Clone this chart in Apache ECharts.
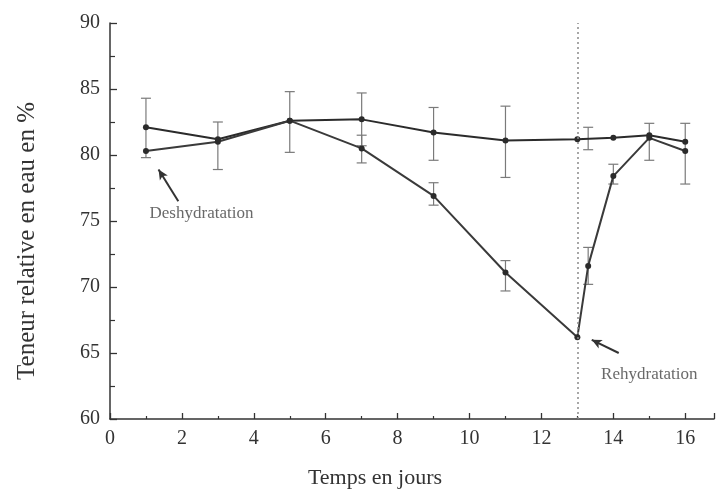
<!DOCTYPE html>
<html>
<head>
<meta charset="utf-8">
<script src="https://cdn.jsdelivr.net/npm/echarts@6/dist/echarts.min.js"></script>
<style>
  html, body { margin: 0; padding: 0; background: #ffffff; }
  #chart { width: 717px; height: 495px; }
</style>
</head>
<body>
<div id="chart"></div>
<script>
// Time in days and relative water content (%)
const controlDays = [1, 3, 5, 7, 9, 11, 13, 14, 15, 16];
const controlValues = [82.1, 81.2, 82.6, 82.7, 81.7, 81.1, 81.2, 81.3, 81.5, 81.0];

const stressDays = [1, 3, 5, 7, 9, 11, 13, 13.3, 14, 15, 16];
const stressValues = [80.3, 81.0, 82.6, 80.5, 76.9, 71.1, 66.2, 71.6, 78.4, 81.3, 80.3];

// Error bars: day, low, high
const errDays = [1, 3, 5, 7, 7, 9, 9, 11, 11, 13.3, 13.3, 14, 15, 16];
const errLow  = [79.8, 78.9, 80.2, 80.7, 79.4, 79.6, 76.2, 78.3, 69.7, 80.4, 70.2, 77.8, 79.6, 77.8];
const errHigh = [84.3, 82.5, 84.8, 84.7, 81.5, 83.6, 77.9, 83.7, 72.0, 82.1, 73.0, 79.3, 82.4, 82.4];

const yTicks = [60, 65, 70, 75, 80, 85, 90];
const xTicks = [0, 2, 4, 6, 8, 10, 12, 14, 16];
const rewaterDay = 13;

const serif = '"Liberation Serif", "DejaVu Serif", serif';
const ink = '#2b2b2b';

const chart = echarts.init(document.getElementById('chart'));

const errData = errDays.map((d, i) => [d, errLow[i], errHigh[i]]);

chart.setOption({
  animation: false,
  backgroundColor: '#ffffff',
  grid: { left: 110, top: 23, bottom: 76, right: 0 },
  xAxis: {
    type: 'value',
    min: xTicks[0],
    max: 16.8,
    interval: 2,
    name: 'Temps en jours',
    nameLocation: 'middle',
    nameGap: 48,
    nameTextStyle: { fontFamily: serif, fontSize: 22, color: '#333', padding: [0, 74, 0, 0] },
    axisLine: { show: true, lineStyle: { color: '#333', width: 1.5 } },
    axisTick: { show: true, inside: true, length: 6, lineStyle: { color: '#333', width: 1.3 } },
    minorTick: { show: true, splitNumber: 2, length: 3, lineStyle: { color: '#333', width: 1.2 } },
    axisLabel: {
      fontFamily: serif, fontSize: 20, color: '#333', margin: 10,
      formatter: v => (xTicks.includes(v) ? String(v) : '')
    },
    splitLine: { show: false }
  },
  yAxis: {
    type: 'value',
    min: yTicks[0],
    max: yTicks[yTicks.length - 1],
    interval: 5,
    name: 'Teneur relative en eau en %',
    nameLocation: 'middle',
    nameGap: 70,
    nameTextStyle: { fontFamily: serif, fontSize: 25, color: '#333', padding: [0, 40, 0, 0] },
    axisLine: { show: true, lineStyle: { color: '#333', width: 1.5 } },
    axisTick: { show: true, inside: true, length: 7, lineStyle: { color: '#333', width: 1.3 } },
    minorTick: { show: true, splitNumber: 2, length: 5, lineStyle: { color: '#333', width: 1.2 } },
    axisLabel: { fontFamily: serif, fontSize: 20, color: '#333', margin: 10 },
    splitLine: { show: false }
  },
  series: [
    {
      name: 'errors',
      type: 'custom',
      z: 1,
      data: errData,
      renderItem: (params, api) => {
        const x = api.value(0);
        const lo = api.coord([x, api.value(1)]);
        const hi = api.coord([x, api.value(2)]);
        const w = 5;
        const style = { stroke: '#7a7a7a', lineWidth: 1.2 };
        return {
          type: 'group',
          children: [
            { type: 'line', shape: { x1: lo[0], y1: lo[1], x2: hi[0], y2: hi[1] }, style },
            { type: 'line', shape: { x1: lo[0] - w, y1: lo[1], x2: lo[0] + w, y2: lo[1] }, style },
            { type: 'line', shape: { x1: hi[0] - w, y1: hi[1], x2: hi[0] + w, y2: hi[1] }, style }
          ]
        };
      }
    },
    {
      name: 'Témoin',
      type: 'line',
      z: 3,
      data: controlDays.map((d, i) => [d, controlValues[i]]),
      symbol: 'circle',
      symbolSize: 6,
      itemStyle: { color: ink },
      lineStyle: { color: ink, width: 2 },
      markLine: {
        silent: true,
        symbol: 'none',
        label: { show: false },
        lineStyle: { color: '#8a8a8a', type: [2, 3], width: 1.5 },
        data: [{ xAxis: rewaterDay }]
      }
    },
    {
      name: 'Stress',
      type: 'line',
      z: 3,
      data: stressDays.map((d, i) => [d, stressValues[i]]),
      symbol: 'circle',
      symbolSize: 6,
      itemStyle: { color: ink },
      lineStyle: { color: '#3a3a3a', width: 2 },
      markLine: {
        silent: true,
        symbol: ['none', 'arrow'],
        symbolSize: [7, 10],
        label: { show: false },
        lineStyle: { color: '#333', type: 'solid', width: 2 },
        data: [
          [{ coord: [1.9, 76.5] }, { coord: [1.35, 78.9] }],
          [{ coord: [14.15, 65.0] }, { coord: [13.4, 66.0] }]
        ]
      }
    },
    {
      name: 'annotations',
      type: 'scatter',
      z: 4,
      symbolSize: 0,
      silent: true,
      data: [
        { value: [1.1, 75.6], label: { formatter: 'Deshydratation' } },
        { value: [13.66, 63.4], label: { formatter: 'Rehydratation' } }
      ],
      label: {
        show: true,
        position: 'right',
        distance: 0,
        fontFamily: serif,
        fontSize: 17,
        color: '#444'
      }
    }
  ]
});
</script>
</body>
</html>
